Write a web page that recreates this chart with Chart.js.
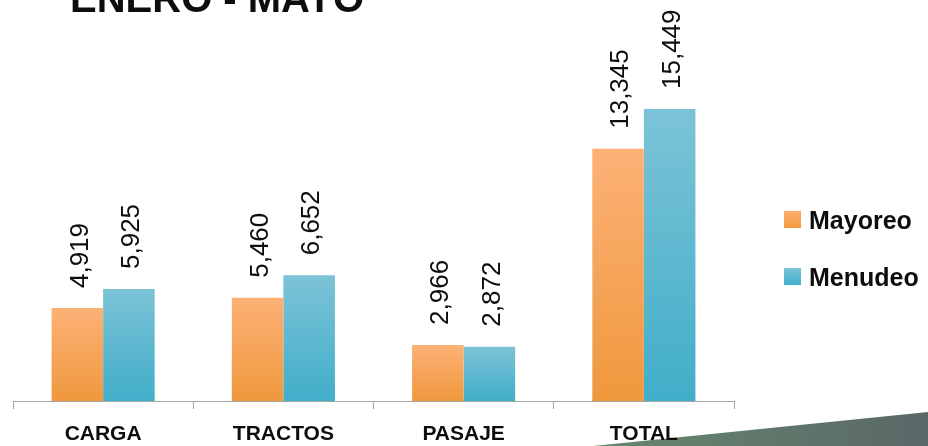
<!DOCTYPE html>
<html>
<head>
<meta charset="utf-8">
<script src="https://cdn.jsdelivr.net/npm/chart.js@4/dist/chart.umd.min.js"></script>
<style>
    html, body { margin: 0; padding: 0; background: #fff; overflow: hidden; }
    #wrap { position: relative; width: 928px; height: 446px; }
    #titulo {
        position: absolute; left: 70px; top: -26px; margin: 0;
        font: bold 40px "Liberation Sans", Arial, sans-serif; color: #0d0d0d;
        line-height: 48px; white-space: nowrap;
    }
    .ley { position: absolute; left: 784px; height: 30px; line-height: 30px; font: bold 25px/30px "Liberation Sans", Arial, sans-serif; color: #0d0d0d; }
    .ley i { position: absolute; left: 0; top: 6px; width: 17px; height: 17px; }
    .ley span { position: absolute; left: 25px; top: 0; white-space: nowrap; }
</style>
</head>
<body>
<div id="wrap">
    <canvas id="grafica" width="928" height="446"></canvas>
    <div id="titulo">ENERO - MAYO</div>
    <div class="ley" style="top:205px"><i style="background:linear-gradient(#fdad6c,#f29a40)"></i><span>Mayoreo</span></div>
    <div class="ley" style="top:262px"><i style="background:linear-gradient(#7cc5d8,#42afca)"></i><span>Menudeo</span></div>
</div>
<script>
// Datos
const CATEGORIAS = ['CARGA', 'TRACTOS', 'PASAJE', 'TOTAL'];
const MAYOREO = [4919, 5460, 2966, 13345];
const MENUDEO = [5925, 6652, 2872, 15449];

const NARANJA = ['#fcb176', '#ef983d'];
const AZUL = ['#7cc3d7', '#41aec9'];
const COLOR_EJE = '#a6a6a6';
const COLOR_TEXTO = '#0d0d0d';

// degradado vertical por barra, como en el original
function degradado(colores) {
    return (c) => {
        const { chart } = c;
        if (!chart.chartArea || c.parsed === undefined) return colores[1];
        const y = chart.scales.y;
        const top = y.getPixelForValue(c.parsed.y);
        const base = y.getPixelForValue(0);
        if (!isFinite(top) || top === base) return colores[1];
        const g = chart.ctx.createLinearGradient(0, top, 0, base);
        g.addColorStop(0, colores[0]);
        g.addColorStop(1, colores[1]);
        return g;
    };
}

// etiquetas de valor giradas sobre cada barra
const etiquetasValor = {
    id: 'etiquetasValor',
    afterDatasetsDraw(chart) {
        const { ctx } = chart;
        ctx.save();
        ctx.fillStyle = COLOR_TEXTO;
        ctx.font = '26px "Liberation Sans", Arial, sans-serif';
        ctx.textAlign = 'left';
        ctx.textBaseline = 'middle';
        chart.data.datasets.forEach((ds, i) => {
            chart.getDatasetMeta(i).data.forEach((bar, j) => {
                ctx.save();
                ctx.translate(bar.x + 3, bar.y - 20);
                ctx.rotate(-Math.PI / 2);
                ctx.fillText(ds.data[j].toLocaleString('en-US'), 0, 0);
                ctx.restore();
            });
        });
        ctx.restore();
    }
};

// cuña decorativa de la esquina inferior derecha (queda detrás de la gráfica)
const cuna = {
    id: 'cuna',
    beforeDraw(chart) {
        const { ctx } = chart;
        ctx.save();
        const g = ctx.createLinearGradient(593, 0, 928, 0);
        g.addColorStop(0, '#66896f');
        g.addColorStop(1, '#5a6767');
        ctx.fillStyle = g;
        ctx.beginPath();
        ctx.moveTo(593, 446);
        ctx.lineTo(928, 412);
        ctx.lineTo(928, 446);
        ctx.closePath();
        ctx.fill();
        ctx.restore();
    }
};

new Chart(document.getElementById('grafica'), {
    type: 'bar',
    data: {
        labels: CATEGORIAS,
        datasets: [
            { label: 'Mayoreo', data: MAYOREO, backgroundColor: degradado(NARANJA) },
            { label: 'Menudeo', data: MENUDEO, backgroundColor: degradado(AZUL) }
        ]
    },
    options: {
        responsive: false,
        animation: false,
        layout: { padding: { left: 13, right: 194, top: 23, bottom: 0 } },
        datasets: { bar: { categoryPercentage: 0.572, barPercentage: 1 } },
        plugins: {
            legend: { display: false },
            tooltip: { enabled: false }
        },
        scales: {
            x: {
                afterFit: (s) => { s.height = 45; },
                grid: { drawOnChartArea: false, drawTicks: true, tickLength: 8, color: COLOR_EJE },
                border: { color: COLOR_EJE, width: 1 },
                ticks: {
                    color: COLOR_TEXTO,
                    padding: 15,
                    maxRotation: 0,
                    font: { family: '"Liberation Sans", Arial, sans-serif', size: 21, weight: 'bold', lineHeight: 1 }
                }
            },
            y: {
                display: false,
                min: 0,
                max: 20000
            }
        }
    },
    plugins: [cuna, etiquetasValor]
});
</script>
</body>
</html>
